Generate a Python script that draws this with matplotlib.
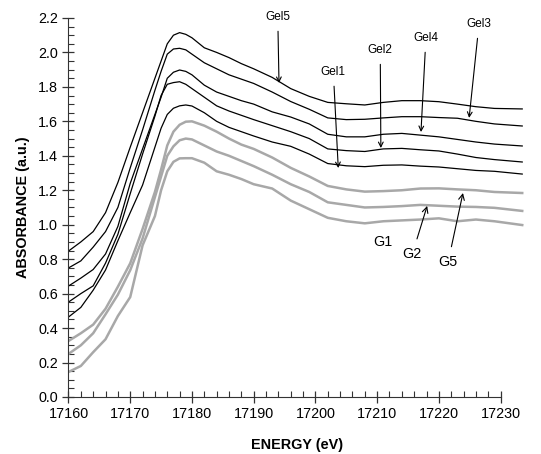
import numpy as np
import matplotlib
matplotlib.use('Agg')
import matplotlib.pyplot as plt
from matplotlib.ticker import MultipleLocator, FixedLocator

plt.rcParams['font.family'] = ['Liberation Sans', 'DejaVu Sans']

# energy grid (eV) shared by all spectra
energy = [17160, 17162, 17164, 17166, 17168, 17170, 17172, 17174, 17175, 17176,
          17177, 17178, 17179, 17180, 17182, 17184, 17186, 17188, 17190, 17193,
          17196, 17199, 17202, 17205, 17208, 17211, 17214, 17217, 17220, 17223,
          17226, 17229, 17233.5]

# gel samples (black)
gel5 = [0.847, 0.90, 0.96, 1.07, 1.245, 1.45, 1.65, 1.85, 1.95, 2.05,
        2.10, 2.115, 2.105, 2.085, 2.027, 2.00, 1.97, 1.935, 1.905, 1.855,
        1.79, 1.745, 1.71, 1.702, 1.695, 1.71, 1.72, 1.72, 1.714, 1.70,
        1.685, 1.675, 1.672]
gel3 = [0.749, 0.79, 0.87, 0.96, 1.10, 1.33, 1.55, 1.78, 1.89, 1.99,
        2.02, 2.024, 2.015, 1.99, 1.94, 1.905, 1.87, 1.845, 1.82, 1.77,
        1.715, 1.67, 1.62, 1.61, 1.612, 1.62, 1.627, 1.627, 1.622, 1.618,
        1.60, 1.585, 1.573]
gel4 = [0.644, 0.69, 0.74, 0.83, 0.99, 1.24, 1.44, 1.64, 1.74, 1.85,
        1.885, 1.898, 1.89, 1.87, 1.81, 1.77, 1.745, 1.72, 1.70, 1.655,
        1.625, 1.585, 1.525, 1.51, 1.51, 1.525, 1.53, 1.52, 1.51, 1.495,
        1.48, 1.468, 1.457]
gel2 = [0.551, 0.60, 0.645, 0.777, 0.944, 1.18, 1.41, 1.63, 1.75, 1.815,
        1.825, 1.83, 1.815, 1.79, 1.74, 1.69, 1.66, 1.635, 1.61, 1.575,
        1.54, 1.50, 1.44, 1.43, 1.425, 1.44, 1.443, 1.435, 1.428, 1.41,
        1.39, 1.378, 1.364]
gel1 = [0.464, 0.52, 0.62, 0.737, 0.907, 1.07, 1.23, 1.45, 1.56, 1.64,
        1.676, 1.69, 1.695, 1.689, 1.65, 1.60, 1.565, 1.54, 1.515, 1.48,
        1.455, 1.41, 1.355, 1.342, 1.337, 1.345, 1.347, 1.34, 1.335, 1.325,
        1.315, 1.31, 1.294]

# glass samples (grey)
g5 = [0.325, 0.37, 0.42, 0.512, 0.64, 0.776, 0.975, 1.19, 1.32, 1.46,
      1.54, 1.58, 1.598, 1.60, 1.575, 1.54, 1.50, 1.465, 1.44, 1.39,
      1.33, 1.28, 1.225, 1.205, 1.192, 1.195, 1.20, 1.21, 1.211, 1.205,
      1.20, 1.19, 1.184]
g2 = [0.25, 0.30, 0.37, 0.48, 0.594, 0.736, 0.92, 1.16, 1.28, 1.40,
      1.455, 1.49, 1.50, 1.495, 1.46, 1.425, 1.40, 1.37, 1.34, 1.29,
      1.235, 1.19, 1.13, 1.115, 1.10, 1.103, 1.108, 1.115, 1.11, 1.105,
      1.103, 1.098, 1.08]
g1 = [0.145, 0.18, 0.26, 0.335, 0.47, 0.58, 0.88, 1.05, 1.20, 1.31,
      1.365, 1.385, 1.386, 1.386, 1.36, 1.31, 1.29, 1.265, 1.235, 1.21,
      1.14, 1.09, 1.04, 1.02, 1.008, 1.02, 1.025, 1.03, 1.037, 1.02,
      1.03, 1.02, 0.998]

gel_curves = [gel5, gel3, gel4, gel2, gel1]
glass_curves = [g5, g2, g1]

fig = plt.figure(figsize=(5.41, 4.54), dpi=100)
ax = fig.add_axes([0.1266, 0.1256, 0.8444, 0.8348])

for c in gel_curves:
    ax.plot(energy, c, color='black', lw=0.9)
for c in glass_curves:
    ax.plot(energy, c, color='#a8a8a8', lw=1.8)

ax.spines['top'].set_visible(False)
ax.spines['right'].set_visible(False)
ax.spines['bottom'].set_bounds(17160, 17230)
ax.spines['bottom'].set_color('#333333')
ax.spines['left'].set_color('#333333')
ax.set_xticks(np.arange(17160, 17231, 10))
ax.set_yticks(np.arange(0, 2.21, 0.2))
ax.xaxis.set_minor_locator(FixedLocator(np.arange(17160, 17231, 2)))
ax.yaxis.set_minor_locator(MultipleLocator(0.05))
ax.tick_params(which='major', direction='inout', length=8, width=0.9, labelsize=10.4, color='#333333')
ax.tick_params(which='minor', direction='in', length=4, width=0.8, color='#333333')
ax.yaxis.set_major_formatter(plt.FormatStrFormatter('%.1f'))
ax.set_xlim(17160, 17234)
ax.set_ylim(0, 2.2)

ax.set_xlabel('ENERGY (eV)', fontsize=10.4, fontweight='bold', labelpad=12)
ax.set_ylabel('ABSORBANCE (a.u.)', fontsize=10.4, fontweight='bold', labelpad=6)

arrow = dict(arrowstyle='->', color='black', lw=0.8, shrinkA=4, shrinkB=0)
gel_notes = [('Gel5', 17193.9, 2.206, 17194.1, 1.823),
             ('Gel1', 17202.9, 1.887, 17203.7, 1.329),
             ('Gel2', 17210.5, 2.014, 17210.6, 1.445),
             ('Gel4', 17217.9, 2.084, 17217.1, 1.538),
             ('Gel3', 17226.5, 2.165, 17224.9, 1.62)]
for lab, tx, ty, px, py in gel_notes:
    ax.annotate(lab, xy=(px, py), xytext=(tx, ty), fontsize=8.5,
                ha='center', va='center', arrowprops=arrow)

ax.text(17211.0, 0.90, 'G1', fontsize=10.3, ha='center', va='center')
ax.annotate('G2', xy=(17218.1, 1.109), xytext=(17215.7, 0.83), fontsize=10.3,
            ha='center', va='center', arrowprops=arrow)
ax.annotate('G5', xy=(17223.9, 1.184), xytext=(17221.5, 0.784), fontsize=10.3,
            ha='center', va='center', arrowprops=arrow)

fig.savefig('out.png', dpi=100)
